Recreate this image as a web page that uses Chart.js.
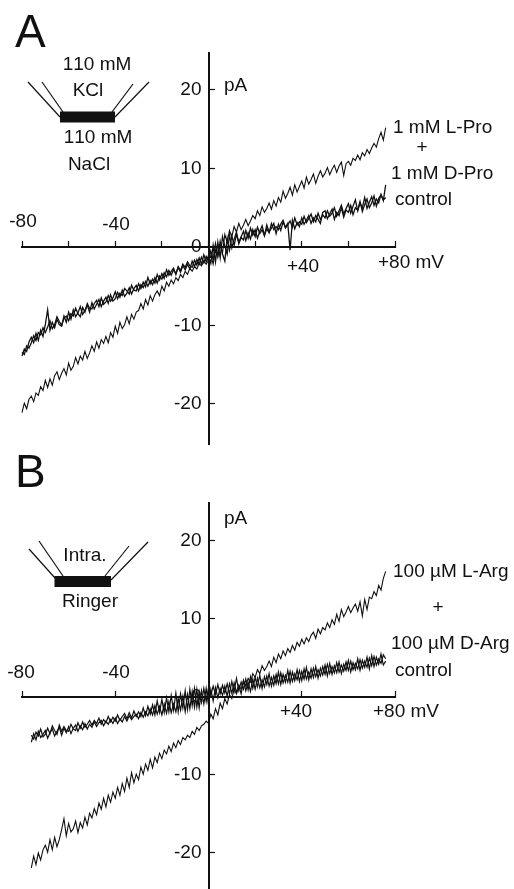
<!DOCTYPE html>
<html>
<head>
<meta charset="utf-8">
<title>I-V curves</title>
<script src="https://cdn.jsdelivr.net/npm/chart.js@4"></script>
<style>
  html, body { margin: 0; padding: 0; background: #fff; }
  .panel { position: absolute; left: 0; width: 514px; }
  #panelA { top: 0; height: 445px; }
  #panelB { top: 445px; height: 444px; }
</style>
</head>
<body>
<div class="panel" id="panelA"><canvas id="chartA"></canvas></div>
<div class="panel" id="panelB"><canvas id="chartB"></canvas></div>
<script>
// membrane voltage (mV)
const voltsA = [-80,-79,-78,-77,-76,-75,-74,-73,-72,-71,-70,-69,-68,-67,-66,-65,-64,-63,-62,-61,-60,-59,-58,-57,-56,-55,-54,-53,-52,-51,-50,-49,-48,-47,-46,-45,-44,-43,-42,-41,-40,-39,-38,-37,-36,-35,-34,-33,-32,-31,-30,-29,-28,-27,-26,-25,-24,-23,-22,-21,-20,-19,-18,-17,-16,-15,-14,-13,-12,-11,-10,-9,-8,-7,-6,-5,-4,-3,-2,-1,0,1,2,3,4,5,6,7,8,9,10,11,12,13,14,15,16,17,18,19,20,21,22,23,24,25,26,27,28,29,30,31,32,33,34,35,36,37,38,39,40,41,42,43,44,45,46,47,48,49,50,51,52,53,54,55,56,57,58,59,60,61,62,63,64,65,66,67,68,69,70,71,72,73,74,75,76];
const voltsB = [-76,-75,-74,-73,-72,-71,-70,-69,-68,-67,-66,-65,-64,-63,-62,-61,-60,-59,-58,-57,-56,-55,-54,-53,-52,-51,-50,-49,-48,-47,-46,-45,-44,-43,-42,-41,-40,-39,-38,-37,-36,-35,-34,-33,-32,-31,-30,-29,-28,-27,-26,-25,-24,-23,-22,-21,-20,-19,-18,-17,-16,-15,-14,-13,-12,-11,-10,-9,-8,-7,-6,-5,-4,-3,-2,-1,0,1,2,3,4,5,6,7,8,9,10,11,12,13,14,15,16,17,18,19,20,21,22,23,24,25,26,27,28,29,30,31,32,33,34,35,36,37,38,39,40,41,42,43,44,45,46,47,48,49,50,51,52,53,54,55,56,57,58,59,60,61,62,63,64,65,66,67,68,69,70,71,72,73,74,75,76];

// panel A currents (pA)
const proTrace = [
  -21.1,-19.9,-20.6,-19.4,-19.0,-19.7,-18.6,-18.9,-17.8,-18.3,
  -17.0,-17.9,-16.8,-17.6,-16.4,-15.9,-16.9,-16.1,-15.5,-16.3,
  -14.8,-15.7,-15.2,-14.1,-14.9,-13.9,-14.4,-13.3,-14.2,-13.5,
  -12.6,-13.3,-12.1,-12.9,-11.8,-12.3,-11.4,-12.2,-10.9,-11.5,
  -10.1,-11.0,-9.6,-10.4,-9.9,-8.9,-9.8,-8.6,-9.2,-8.3,
  -8.1,-7.2,-7.9,-6.7,-7.4,-6.2,-6.9,-6.1,-5.6,-6.2,
  -5.0,-5.6,-4.5,-5.0,-4.2,-4.7,-3.9,-4.3,-3.5,-3.9,
  -3.1,-3.5,-2.7,-3.1,-2.5,-2.8,-2.1,-2.4,-1.8,-2.2,
  -1.7,-1.1,-2.2,-0.4,-1.2,0.3,-0.8,1.6,0.6,2.1,
  1.3,2.6,1.9,3.0,2.2,2.8,3.5,2.7,3.3,4.0,
  3.6,4.6,4.0,5.1,4.4,4.9,5.6,4.8,5.9,5.2,
  6.3,5.7,7.1,6.2,6.8,7.6,6.6,7.9,7.0,7.7,
  8.4,7.5,8.9,8.0,8.6,9.3,8.1,9.0,9.7,8.9,
  9.4,10.1,9.2,9.9,10.4,9.5,10.3,10.8,9.1,10.6,
  10.9,10.4,11.3,11.0,11.7,11.1,12.0,11.6,12.4,11.9,
  12.6,13.2,12.7,13.8,14.6,13.6,15.2];
const ctlTraceA1 = [
  -13.9,-13.0,-13.3,-12.1,-11.5,-12.2,-11.0,-11.9,-10.6,-11.4,
  -9.9,-8.0,-10.6,-9.6,-10.3,-9.2,-9.9,-10.1,-8.8,-9.6,
  -8.3,-9.2,-8.0,-8.9,-8.4,-7.6,-8.6,-8.1,-7.4,-8.3,
  -7.1,-7.9,-7.3,-6.7,-7.6,-6.9,-6.4,-7.2,-6.1,-6.9,
  -6.6,-5.8,-6.4,-5.5,-6.3,-5.9,-5.2,-6.0,-5.3,-4.9,
  -5.6,-4.8,-5.2,-4.4,-5.0,-4.3,-4.8,-3.9,-4.6,-3.7,
  -4.1,-3.3,-3.8,-3.0,-3.6,-2.9,-3.4,-2.6,-3.2,-2.4,
  -2.9,-2.2,-2.8,-1.8,-2.5,-1.6,-2.2,-1.3,-2.0,-1.2,
  -1.8,-0.5,-1.6,0.4,-1.2,0.7,-0.9,-1.8,1.1,-0.4,
  1.4,0.2,1.6,0.6,1.3,2.0,0.8,1.8,1.0,2.2,
  1.3,2.5,1.7,2.2,1.4,2.8,1.9,2.4,3.0,1.7,
  2.9,2.1,3.2,2.5,3.0,-0.4,3.4,2.3,3.1,2.6,
  3.7,2.9,3.4,4.0,3.0,3.7,3.2,4.3,3.5,4.1,
  3.7,4.6,3.9,4.3,5.0,3.9,4.6,5.3,4.2,4.9,
  5.5,4.3,5.2,6.0,4.6,5.6,5.0,6.3,4.9,5.7,
  6.4,5.3,6.1,5.6,6.7,5.9,7.9];
const ctlTraceA2 = [
  -13.4,-13.7,-12.6,-12.9,-12.2,-11.3,-11.9,-10.9,-11.2,-10.3,
  -10.9,-10.2,-9.4,-10.4,-9.9,-8.9,-9.5,-10.0,-9.1,-8.8,
  -9.4,-8.5,-8.8,-7.8,-8.5,-8.9,-7.7,-8.3,-7.2,-7.8,
  -7.9,-7.2,-6.8,-7.6,-6.5,-7.3,-7.0,-6.2,-6.9,-6.5,
  -5.7,-6.6,-5.9,-6.2,-5.3,-5.6,-6.0,-4.9,-5.5,-5.6,
  -4.7,-5.3,-4.5,-5.1,-3.9,-4.7,-4.1,-4.6,-3.5,-4.2,
  -3.4,-4.0,-2.9,-3.6,-3.1,-2.7,-3.5,-2.5,-3.0,-2.2,
  -2.6,-1.9,-2.4,-2.6,-1.7,-2.3,-1.4,-2.2,-1.0,-1.9,
  -1.1,-2.1,0.2,-1.9,0.6,-1.4,1.3,0.1,-0.9,1.5,
  -0.1,1.0,1.9,0.4,1.2,0.9,2.1,1.1,2.4,1.5,
  2.2,1.1,2.0,2.7,1.5,2.3,1.8,3.0,2.2,2.6,
  2.2,2.9,3.4,2.4,2.8,3.3,2.5,3.7,2.8,3.2,
  2.9,3.9,3.1,3.6,4.2,3.2,4.0,3.5,3.0,4.4,
  4.6,3.6,4.2,4.8,3.5,4.4,4.0,5.0,3.8,4.7,
  4.4,5.3,4.1,5.0,4.7,5.8,4.5,5.4,6.1,5.0,
  5.6,6.5,5.2,6.2,6.6,6.0,6.3];

// panel B currents (pA)
const argTrace = [
  -21.9,-20.4,-21.5,-20.0,-20.9,-19.6,
  -19.0,-19.9,-18.3,-19.6,-18.0,-19.2,-18.3,-17.0,-15.6,-17.8,
  -16.2,-17.3,-16.9,-15.9,-17.4,-16.1,-16.8,-15.4,-16.4,-14.9,
  -15.5,-14.3,-15.1,-13.6,-14.4,-13.0,-14.1,-12.6,-13.5,-12.2,
  -13.0,-11.6,-12.6,-11.1,-12.1,-10.4,-11.6,-9.7,-11.0,-9.9,
  -10.6,-9.0,-9.9,-8.6,-9.4,-8.0,-9.1,-7.7,-8.4,-7.2,
  -7.9,-6.8,-7.3,-6.3,-7.0,-5.9,-6.5,-5.6,-6.1,-5.2,
  -5.5,-4.9,-5.2,-4.4,-4.8,-3.9,-4.3,-3.7,-3.5,-3.1,
  -3.4,-2.2,-2.8,-1.5,-2.3,-0.8,-1.5,-0.2,-0.9,0.3,
  -0.2,1.0,0.4,1.5,1.0,2.1,1.4,2.4,1.9,3.0,
  2.5,3.5,3.0,4.0,3.4,3.9,4.6,3.9,5.1,4.4,
  5.5,4.9,5.9,5.3,6.2,5.7,6.6,6.0,7.0,6.5,
  7.4,6.8,7.6,7.1,7.9,8.3,7.5,8.7,8.1,8.9,
  8.6,9.5,8.9,9.9,9.3,10.6,9.7,11.2,10.3,10.9,
  11.6,10.8,11.4,11.9,11.0,12.2,10.4,12.5,11.2,12.8,
  12.6,13.5,13.0,14.3,13.7,15.2,16.1];
const ctlTraceB1 = [
  -5.8,-4.7,-5.5,-4.4,-5.2,-4.8,
  -4.3,-5.3,-4.6,-4.1,-5.0,-4.4,-3.9,-4.9,-4.0,-4.6,
  -3.8,-4.7,-4.0,-3.6,-4.4,-3.7,-4.2,-3.4,-4.1,-3.5,
  -3.9,-3.2,-3.8,-3.3,-3.0,-3.7,-3.1,-3.5,-2.9,-3.4,
  -2.7,-3.4,-2.8,-3.2,-2.5,-3.1,-2.4,-2.9,-2.5,-2.2,
  -2.8,-2.0,-2.6,-1.9,-2.4,-1.5,-2.3,-1.1,-2.2,-1.2,
  -2.3,-0.9,-2.1,-0.6,-2.0,-0.9,-1.9,-0.2,-1.7,0.1,
  -1.9,0.3,-1.5,0.7,-1.3,1.0,-1.4,0.8,-0.9,1.1,
  -1.0,1.0,-0.5,1.2,-0.1,1.1,0.2,1.4,0.1,1.7,
  0.5,1.8,0.6,1.5,0.4,2.1,0.8,1.9,0.7,2.3,
  1.0,2.4,1.2,2.2,1.3,2.7,1.4,2.5,1.5,2.9,
  1.7,3.1,1.8,2.8,1.9,3.3,2.0,3.0,2.2,3.4,
  2.1,3.6,2.3,3.2,2.4,3.7,2.6,3.5,2.7,3.9,
  2.9,4.2,3.0,3.9,3.1,4.4,3.2,4.1,3.3,4.5,
  3.4,4.6,3.5,4.3,3.6,4.8,3.7,4.6,3.8,5.0,
  4.0,5.2,4.1,4.9,4.3,5.4,4.9];
const ctlTraceB2 = [
  -4.9,-5.4,-4.5,-5.0,-4.1,-5.1,
  -4.8,-4.0,-4.7,-3.7,-4.3,-4.8,-3.6,-4.4,-3.8,-4.3,
  -4.4,-3.5,-4.1,-4.3,-3.3,-4.0,-3.2,-3.9,-3.5,-3.0,
  -3.6,-3.0,-3.4,-2.7,-3.5,-2.9,-3.3,-2.5,-3.2,-2.6,
  -3.1,-2.3,-3.0,-2.5,-2.1,-2.8,-2.0,-2.7,-1.8,-2.5,
  -1.9,-2.5,-1.4,-2.4,-1.2,-2.2,-1.0,-2.3,-0.5,-2.0,
  -0.3,-2.0,-0.1,-1.9,0.2,-1.7,0.5,-1.9,0.4,-1.4,
  0.8,-1.6,1.0,-1.1,1.1,-1.3,0.7,-0.7,1.1,-0.6,
  1.2,0.2,1.4,0.3,1.6,0.4,1.5,0.5,1.7,0.4,
  2.0,0.7,2.4,0.8,1.9,1.0,2.3,0.9,2.6,1.1,
  2.5,1.3,2.8,1.1,2.6,1.6,3.0,1.4,2.7,1.7,
  3.2,1.6,2.9,1.9,3.4,1.8,3.2,2.1,3.5,2.0,
  3.3,2.3,3.8,2.2,3.6,2.5,3.9,2.4,3.7,2.8,
  4.1,2.7,4.3,2.9,4.0,3.1,4.5,3.0,4.2,3.4,
  4.7,3.2,4.4,3.5,4.9,3.4,4.7,3.8,5.1,3.6,
  5.3,3.9,5.1,4.2,5.5,4.1,4.6];

// axis ticks
const xTicksA = [-80,-60,-40,-20,0,20,40,60,80];
const xTicksB = [-80,-40,0,40,80];
const yTicks = [-20,-10,0,10,20];

const FONT = '"Liberation Sans", Arial, sans-serif';
const INK = '#111';

// free text and the little bath schematic, in canvas pixels
const notesA = [
  ['A', 15, 47, 46, 'left'],
  ['110 mM', 97, 70], ['KCl', 88, 96], ['110 mM', 98, 143], ['NaCl', 89, 170],
  ['pA', 224, 91, 19, 'left'],
  ['-80', 23, 227], ['-40', 116, 230], ['+40', 303, 272], ['+80 mV', 411, 268],
  ['1 mM L-Pro', 393, 133, 19, 'left'], ['+', 422, 153], ['1 mM D-Pro', 391, 179, 19, 'left'], ['control', 395, 205, 19, 'left']
];
const notesB = [
  ['B', 15, 42, 46, 'left'],
  ['Intra.', 85, 116], ['Ringer', 90, 162],
  ['pA', 224, 79, 19, 'left'],
  ['-80', 21, 233], ['-40', 116, 233], ['+40', 296, 272], ['+80 mV', 406, 272],
  ['100 µM L-Arg', 393, 132, 19, 'left'], ['+', 438, 168], ['100 µM D-Arg', 391, 204, 19, 'left'], ['control', 395, 231, 19, 'left']
];
const schematicA = { bar: [60, 111.5, 55, 11], lines: [[28,82,60,117],[42,82,63,112],[133,84,112,112],[149,82,115,117]] };
const schematicB = { bar: [54.5, 131, 56.5, 11], lines: [[29,104,55,133],[39,96,63,131],[129,101,105,131],[148,97,111,135]] };

function decorate(notes, schematic) {
  return {
    id: 'decorate',
    afterDraw(chart) {
      const c = chart.ctx;
      c.save();
      c.fillStyle = INK;
      c.strokeStyle = INK;
      c.lineWidth = 1.2;
      c.fillRect(...schematic.bar);
      schematic.lines.forEach(l => {
        c.beginPath();
        c.moveTo(l[0], l[1]);
        c.lineTo(l[2], l[3]);
        c.stroke();
      });
      c.fontKerning = 'none';
      c.textBaseline = 'alphabetic';
      notes.forEach(n => {
        c.font = (n[3] || 19) + 'px ' + FONT;
        c.textAlign = n[4] || 'center';
        c.fillText(n[0], n[1], n[2]);
      });
      // y tick labels sit left of the axis, which is in the middle of the chart
      const xAxis = chart.scales.x.getPixelForValue(0);
      c.font = '19px ' + FONT;
      c.textAlign = 'right';
      c.textBaseline = 'middle';
      yTicks.forEach(v => c.fillText(String(v), xAxis - 7, chart.scales.y.getPixelForValue(v)));
      c.restore();
    }
  };
}

function trace(volts, amps, width) {
  return {
    data: volts.map((v, i) => ({ x: v, y: amps[i] })),
    showLine: true,
    borderColor: INK,
    borderWidth: width,
    pointRadius: 0,
    tension: 0,
    clip: false
  };
}

function makeChart(id, datasets, xTicks, yRange, padding, notes, schematic) {
  return new Chart(document.getElementById(id), {
    type: 'scatter',
    data: { datasets },
    options: {
      responsive: true,
      maintainAspectRatio: false,
      animation: false,
      layout: { padding },
      plugins: { legend: { display: false }, tooltip: { enabled: false } },
      scales: {
        x: {
          type: 'linear',
          min: -80,
          max: 80,
          position: { y: 0 },
          afterBuildTicks: s => { s.ticks = xTicks.map(v => ({ value: v })); },
          afterFit: s => { s.height = 0; },
          ticks: { display: false },
          border: { color: INK, width: 2 },
          grid: { drawOnChartArea: false, tickLength: -7, tickColor: INK, tickWidth: 1.2 }
        },
        y: {
          type: 'linear',
          min: yRange[0],
          max: yRange[1],
          position: { x: 0 },
          afterBuildTicks: s => { s.ticks = yTicks.map(v => ({ value: v })); },
          afterFit: s => { s.width = 0; },
          ticks: { display: false },
          border: { color: INK, width: 2 },
          grid: { drawOnChartArea: false, tickLength: -7, tickColor: INK, tickWidth: 1.2 }
        }
      }
    },
    plugins: [decorate(notes, schematic)]
  });
}

makeChart('chartA',
  [trace(voltsA, proTrace, 1.1), trace(voltsA, ctlTraceA1, 1.3), trace(voltsA, ctlTraceA2, 1.3)],
  xTicksA, [-25.1, 24.7],
  { left: 22, right: 119, top: 53, bottom: 1 },
  notesA, schematicA);

makeChart('chartB',
  [trace(voltsB, argTrace, 1.1), trace(voltsB, ctlTraceB1, 1.2), trace(voltsB, ctlTraceB2, 1.2)],
  xTicksB, [-24.49, 24.87],
  { left: 22, right: 119, top: 58, bottom: 1 },
  notesB, schematicB);
</script>
</body>
</html>
